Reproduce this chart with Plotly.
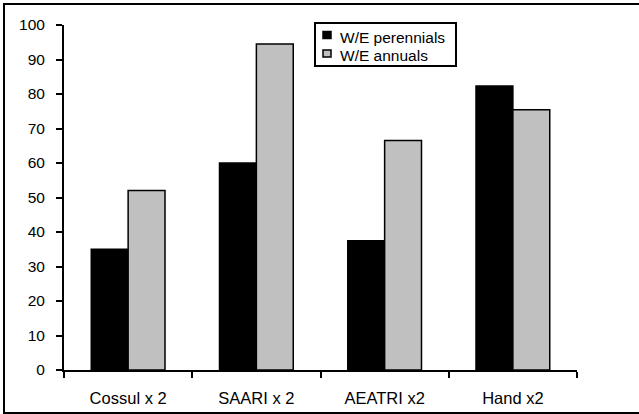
import plotly.graph_objects as go

categories = ["Cossul x 2", "SAARI x 2", "AEATRI x2", "Hand x2"]
perennials = [35, 60, 37.5, 82.3]
annuals = [52, 94.5, 66.5, 75.4]
y_ticks = [0, 10, 20, 30, 40, 50, 60, 70, 80, 90, 100]
series_names = ["W/E perennials", "W/E annuals"]
series_colors = ["#000000", "#c0c0c0"]

W, H = 639, 414
L, R, T, B = 64, 62, 25, 44
pw, ph = W - L - R, H - T - B


def px_x(x):
    return (x - L) / pw


def px_y(y):
    return (H - B - y) / ph


fig = go.Figure()
for name, vals, col in zip(series_names, [perennials, annuals], series_colors):
    fig.add_trace(go.Bar(name=name, x=categories, y=vals, showlegend=False,
                         marker=dict(color=col, line=dict(color="#000000", width=1.5))))

family = "Liberation Sans, Arial, sans-serif"

# Outer frame plus a boxed legend with small square keys
shapes = [dict(type="rect", xref="paper", yref="paper",
               x0=px_x(4), x1=px_x(W + 20), y0=px_y(413), y1=px_y(4),
               line=dict(color="#000000", width=2), fillcolor="rgba(0,0,0,0)",
               layer="below"),
          dict(type="rect", xref="paper", yref="paper",
               x0=px_x(315), x1=px_x(456), y0=px_y(66), y1=px_y(23),
               line=dict(color="#000000", width=2), fillcolor="white")]
annotations = []
for i, (name, col) in enumerate(zip(series_names, series_colors)):
    cy = 35 + i * 18.5
    shapes.append(dict(type="rect", xref="paper", yref="paper",
                       x0=px_x(323), x1=px_x(331), y0=px_y(cy + 3.5), y1=px_y(cy - 3.5),
                       line=dict(color="#000000", width=1.5), fillcolor=col))
    annotations.append(dict(xref="paper", yref="paper", x=px_x(338), y=px_y(cy + 2),
                            xanchor="left", yanchor="middle", text=name, showarrow=False,
                            font=dict(family=family, size=15.5, color="#000000")))

fig.update_layout(
    width=W, height=H,
    margin=dict(l=L, r=R, t=T, b=B, pad=0, autoexpand=False),
    paper_bgcolor="white", plot_bgcolor="white",
    barmode="group", bargap=0.425, bargroupgap=0,
    font=dict(family=family, size=15, color="#000000"),
    showlegend=False,
    xaxis=dict(showline=True, linecolor="#000000", linewidth=2, automargin=False,
               ticks="outside", ticklen=6, tickwidth=1.5, tickcolor="#000000",
               tickson="boundaries", showgrid=False, zeroline=False,
               tickfont=dict(family=family, size=16.5, color="#000000"),
               ticklabelstandoff=12),
    yaxis=dict(range=[0, 100], tickvals=y_ticks, showline=True, linecolor="#000000",
               linewidth=2, ticks="outside", ticklen=6, tickwidth=1.5, automargin=False,
               tickcolor="#000000", showgrid=False, zeroline=False,
               tickfont=dict(family=family, size=15.5, color="#000000"),
               ticklabelstandoff=8),
    shapes=shapes,
    annotations=annotations,
)

fig.write_html("out.html")
